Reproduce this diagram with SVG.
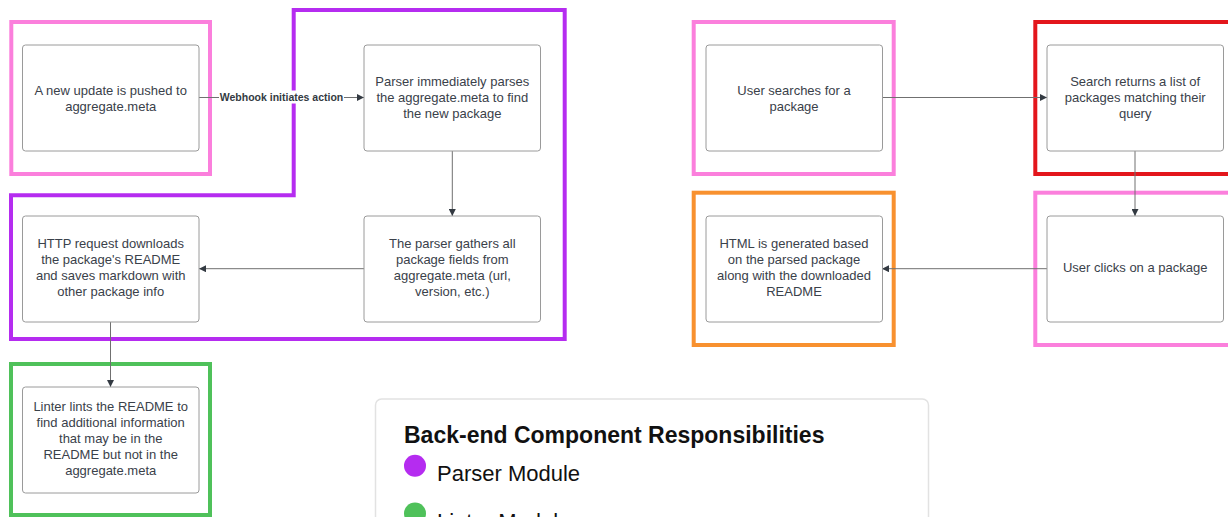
<svg xmlns="http://www.w3.org/2000/svg" width="1228" height="517" viewBox="0 0 1228 517">
<defs>
<marker id="arr" viewBox="0 0 10 10" refX="10" refY="5" markerWidth="8" markerHeight="7" markerUnits="userSpaceOnUse" orient="auto">
<path d="M0,0 L10,5 L0,10 Z" fill="#333a42"/>
</marker>
<style>
.grp{fill:none;stroke-width:4;stroke-linejoin:miter}
.node{fill:#fff;stroke:#9a9a9a;stroke-width:1}
.t{font-family:"Liberation Sans",Arial,sans-serif;font-size:13px;fill:#3a414a;text-anchor:middle}
.c{fill:none;stroke:#707070;stroke-width:1}
.lbl{font-family:"Liberation Sans",Arial,sans-serif;font-size:10.5px;font-weight:bold;fill:#333a42;text-anchor:middle}
.lg{font-family:"Liberation Sans",Arial,sans-serif;fill:#111}
</style>
</defs>
<rect width="1228" height="517" fill="#fff"/>

<g id="groups">
<rect class="grp" x="11.3" y="22" width="198.7" height="152" stroke="#fb7fdc"/>
<path class="grp" d="M293.7,10 H564.7 V339 H11 V195.3 H293.7 Z" stroke="#b52cf0"/>
<rect class="grp" x="11" y="364" width="199" height="151" stroke="#4fc15a"/>
<rect class="grp" x="693.7" y="22" width="200" height="152" stroke="#fb7fdc"/>
<rect class="grp" x="1035.3" y="22" width="200" height="152" stroke="#e3161c"/>
<rect class="grp" x="693.7" y="192.7" width="200" height="152.3" stroke="#f8912f"/>
<rect class="grp" x="1035.3" y="192.7" width="200" height="152.3" stroke="#fb7fdc"/>
</g>

<g id="connectors">
<line class="c" x1="199" y1="97.5" x2="364" y2="97.5" marker-end="url(#arr)"/>
<rect x="219" y="90.5" width="125" height="13" fill="#fff"/>
<text class="lbl" x="281.5" y="101.2">Webhook initiates action</text>
<line class="c" x1="452.3" y1="151" x2="452.3" y2="216" marker-end="url(#arr)"/>
<line class="c" x1="364" y1="268.7" x2="199" y2="268.7" marker-end="url(#arr)"/>
<line class="c" x1="110.5" y1="322" x2="110.5" y2="387" marker-end="url(#arr)"/>
<line class="c" x1="882" y1="97.5" x2="1047" y2="97.5" marker-end="url(#arr)"/>
<line class="c" x1="1135" y1="151" x2="1135" y2="216" marker-end="url(#arr)"/>
<line class="c" x1="1047" y1="268.7" x2="882" y2="268.7" marker-end="url(#arr)"/>
</g>

<g id="n-update">
<rect class="node" x="22.5" y="45" width="176.5" height="106" rx="3"/>
<text class="t" x="110.7" y="94.5">A new update is pushed to</text>
<text class="t" x="110.7" y="110.5">aggregate.meta</text>
</g>
<g id="n-parser">
<rect class="node" x="364" y="45" width="176.5" height="106" rx="3"/>
<text class="t" x="452.3" y="85.5">Parser immediately parses</text>
<text class="t" x="452.3" y="101.5">the aggregate.meta to find</text>
<text class="t" x="452.3" y="117.5">the new package</text>
</g>
<g id="n-gather">
<rect class="node" x="364" y="216" width="176.5" height="106" rx="3"/>
<text class="t" x="452.3" y="247.5">The parser gathers all</text>
<text class="t" x="452.3" y="263.5">package fields from</text>
<text class="t" x="452.3" y="279.5">aggregate.meta (url,</text>
<text class="t" x="452.3" y="295.5">version, etc.)</text>
</g>
<g id="n-http">
<rect class="node" x="22.5" y="216" width="176.5" height="106" rx="3"/>
<text class="t" x="110.7" y="247.5">HTTP request downloads</text>
<text class="t" x="110.7" y="263.5">the package's README</text>
<text class="t" x="110.7" y="279.5">and saves markdown with</text>
<text class="t" x="110.7" y="295.5">other package info</text>
</g>
<g id="n-linter">
<rect class="node" x="22.5" y="387" width="176.5" height="106" rx="3"/>
<text class="t" x="110.7" y="410.5">Linter lints the README to</text>
<text class="t" x="110.7" y="426.5">find additional information</text>
<text class="t" x="110.7" y="442.5">that may be in the</text>
<text class="t" x="110.7" y="458.5">README but not in the</text>
<text class="t" x="110.7" y="474.5">aggregate.meta</text>
</g>
<g id="n-search">
<rect class="node" x="706" y="45" width="176.5" height="106" rx="3"/>
<text class="t" x="794" y="94.5">User searches for a</text>
<text class="t" x="794" y="110.5">package</text>
</g>
<g id="n-results">
<rect class="node" x="1047" y="45" width="176.5" height="106" rx="3"/>
<text class="t" x="1135.2" y="85.5">Search returns a list of</text>
<text class="t" x="1135.2" y="101.5">packages matching their</text>
<text class="t" x="1135.2" y="117.5">query</text>
</g>
<g id="n-html">
<rect class="node" x="706" y="216" width="176.5" height="106" rx="3"/>
<text class="t" x="794" y="247.5">HTML is generated based</text>
<text class="t" x="794" y="263.5">on the parsed package</text>
<text class="t" x="794" y="279.5">along with the downloaded</text>
<text class="t" x="794" y="295.5">README</text>
</g>
<g id="n-click">
<rect class="node" x="1047" y="216" width="176.5" height="106" rx="3"/>
<text class="t" x="1135.2" y="271.5">User clicks on a package</text>
</g>

<g id="legend">
<rect x="375.5" y="399" width="553" height="140" rx="6" fill="#fff" stroke="#e2e2e2" stroke-width="1.5"/>
<text class="lg" x="404" y="443" font-size="23" font-weight="bold">Back-end Component Responsibilities</text>
<circle cx="415" cy="465.7" r="11" fill="#b52cf0"/>
<text class="lg" x="437" y="481" font-size="22">Parser Module</text>
<circle cx="415" cy="513.5" r="11" fill="#4fc15a"/>
<text class="lg" x="437" y="529" font-size="22">Linter Module</text>
</g>
</svg>
